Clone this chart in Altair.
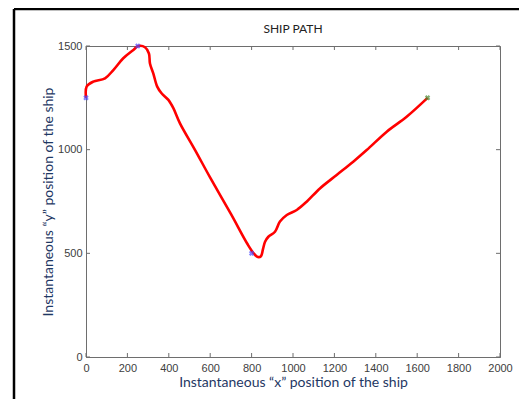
import altair as alt
import pandas as pd

# ship path
path_x = [0, 3, 35, 92, 132, 180, 229, 253, 285, 304, 309, 325, 344, 365, 398, 422, 454,
          527, 600, 700, 780, 810, 830, 845, 855, 865, 881, 913, 937, 970, 1018, 1066,
          1130, 1211, 1291, 1356, 1453, 1549, 1650]
path_y = [1250, 1304, 1328, 1344, 1384, 1441, 1481, 1500, 1494, 1464, 1416, 1368, 1304,
          1272, 1240, 1200, 1127, 998, 865, 690, 545, 500, 482, 486, 520, 556, 580, 604,
          653, 685, 709, 749, 813, 878, 942, 998, 1087, 1159, 1250]

# waypoints
way_x = [0, 250, 800, 1650]
way_y = [1250, 1500, 500, 1250]
way_kind = ["via", "via", "via", "end"]

x_ticks = [0, 200, 400, 600, 800, 1000, 1200, 1400, 1600, 1800, 2000]
y_ticks = [0, 500, 1000, 1500]

chart_title = "SHIP PATH"

W, H = 414, 311
AXIS_GRAY = "#6e6e6e"
LABEL_GRAY = "#404040"
TITLE_BLUE = "#1F3864"

path_df = pd.DataFrame({"x": path_x, "y": path_y, "i": range(len(path_x))})
way_df = pd.DataFrame({"x": way_x, "y": way_y, "kind": way_kind})
xt_df = pd.DataFrame({"t": x_ticks})
yt_df = pd.DataFrame({"t": y_ticks})

xs = alt.Scale(domain=[0, 2000], nice=False, zero=False)
ys = alt.Scale(domain=[0, 1500], nice=False, zero=False)

xaxis = alt.Axis(values=x_ticks, format="d", tickSize=0, labelPadding=5, grid=False,
                 labelFlush=False,
                 title="Instantaneous \u201cx\u201d position of the ship", titlePadding=2)
yaxis = alt.Axis(values=y_ticks, format="d", tickSize=0, labelPadding=4, grid=False,
                 labelFlush=False,
                 title="Instantaneous \u201cy\u201d position of the ship", titlePadding=2)

line = alt.Chart(path_df).mark_line(color="#ff0000", strokeWidth=2.6,
                                    interpolate="catmull-rom").encode(
    x=alt.X("x:Q", scale=xs, axis=xaxis),
    y=alt.Y("y:Q", scale=ys, axis=yaxis),
    order="i:Q",
)

points = alt.Chart(way_df).mark_point(shape="cross", angle=45, size=30, filled=True,
                                      strokeWidth=0).encode(
    x=alt.X("x:Q", scale=xs),
    y=alt.Y("y:Q", scale=ys),
    color=alt.Color("kind:N", scale=alt.Scale(domain=["via", "end"],
                                              range=["#4b4bff", "#4a8a30"]), legend=None),
)

xt_bottom = alt.Chart(xt_df).mark_rule(color=AXIS_GRAY, strokeWidth=1).encode(
    x=alt.X("t:Q", scale=xs), y=alt.value(H), y2=alt.value(H - 4))
xt_top = alt.Chart(xt_df).mark_rule(color=AXIS_GRAY, strokeWidth=1).encode(
    x=alt.X("t:Q", scale=xs), y=alt.value(0), y2=alt.value(4))
yt_left = alt.Chart(yt_df).mark_rule(color=AXIS_GRAY, strokeWidth=1).encode(
    y=alt.Y("t:Q", scale=ys), x=alt.value(0), x2=alt.value(4))
yt_right = alt.Chart(yt_df).mark_rule(color=AXIS_GRAY, strokeWidth=1).encode(
    y=alt.Y("t:Q", scale=ys), x=alt.value(W), x2=alt.value(W - 4))

frame_top = alt.Chart(alt.Data(values=[{}])).mark_rule(color="black", strokeWidth=2.5).encode(
    x=alt.value(-72), x2=alt.value(440), y=alt.value(-37))
frame_left = alt.Chart(alt.Data(values=[{}])).mark_rule(color="black", strokeWidth=2.5).encode(
    x=alt.value(-72), y=alt.value(-37), y2=alt.value(360))

title_mark = alt.Chart(alt.Data(values=[{"t": chart_title}])).mark_text(
    font="Lato", fontSize=12, color="#222222", align="center", baseline="middle"
).encode(x=alt.value(W / 2), y=alt.value(-17), text="t:N")

chart = alt.layer(
    frame_top, frame_left, title_mark, xt_bottom, xt_top, yt_left, yt_right, line, points
).properties(
    width=W, height=H,
    autosize=alt.AutoSizeParams(type="none"),
    padding={"left": 78, "top": 38, "right": 19, "bottom": 42},
).configure_view(
    stroke=AXIS_GRAY, strokeWidth=1
).configure_axis(
    domainColor=AXIS_GRAY, labelColor=LABEL_GRAY, labelFont="Liberation Sans",
    labelFontSize=11, titleFont="Lato", titleFontSize=14, titleFontWeight="normal",
    titleColor=TITLE_BLUE,
)

chart.save("out.html", embed_options={"renderer": "svg", "actions": False})
